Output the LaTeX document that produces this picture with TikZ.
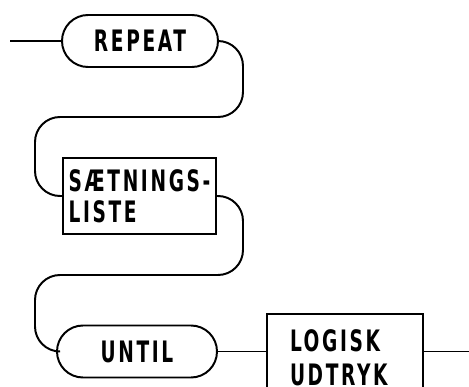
\documentclass[tikz,border=0pt]{standalone}
\usepackage{fontspec}
\setmainfont{DejaVu Sans Condensed}[FakeStretch=0.7,LetterSpace=9]
\usetikzlibrary{positioning}
\begin{document}
\begin{tikzpicture}[
  pill/.style={draw, line width=1.4pt, rounded corners=0.65cm, minimum width=3.9cm, minimum height=1.3cm, font=\fontsize{21}{20}\selectfont\bfseries},
  frame/.style={draw, line width=1.4pt, align=left, minimum width=3.825cm, minimum height=1.9cm, font=\fontsize{21}{20}\selectfont\bfseries},
  wire/.style={line width=1.4pt, rounded corners=0.625cm}]
\useasboundingbox (0,0) rectangle (11.725,-9.675);
\node[pill] (repeat) at (3.5,-1.025) {REPEAT};
\node[frame] (liste) at (3.4875,-4.9) {SÆTNINGS-\\[2pt]LISTE};
\node[frame, minimum width=3.9cm, minimum height=2.2cm, text width=2.75cm, inner xsep=0.575cm] (udtryk) at (8.625,-8.95) {LOGISK\\[4pt]UDTRYK};
\node[pill, minimum width=4cm] (until) at (3.425,-8.7875) {UNTIL};
\coordinate (start) at (0.25,-1.025);
\coordinate (stop) at (11.8,-8.7875);
\coordinate (rx) at (6.075,0);
\coordinate (lx) at (0.875,0);
\coordinate (gapa) at (0,-2.925);
\coordinate (gapb) at (0,-6.875);
\draw[wire] (start) -- (repeat);
\draw[wire] (repeat.east) -| (rx |- gapa) -| (lx |- liste.west) -- (liste.west);
\draw[wire] (liste.east) -| (rx |- gapb) -| (lx |- until.west) -- (until.west);
\draw[wire] (until) -- (until -| udtryk.west);
\draw[wire] (until -| udtryk.east) -- (stop);
\end{tikzpicture}
\end{document}
